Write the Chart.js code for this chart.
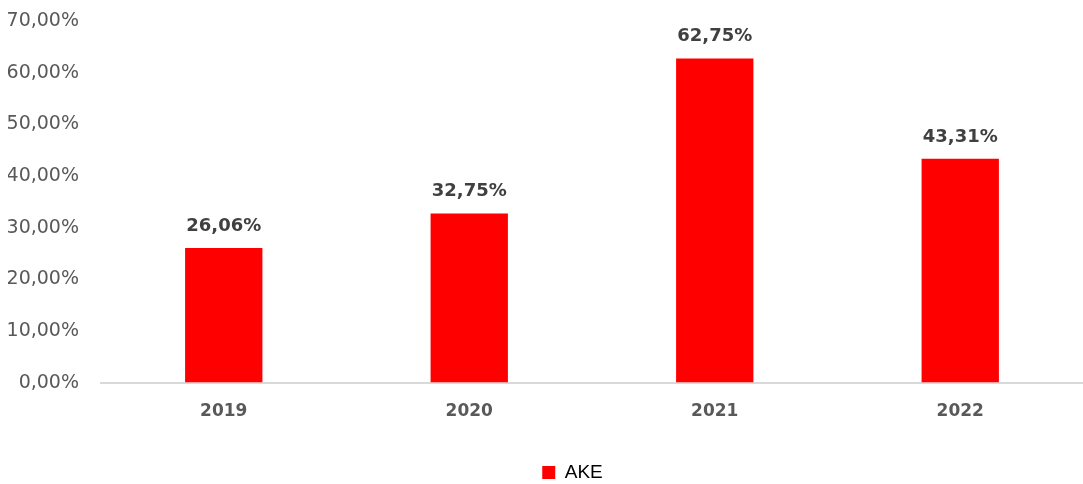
<!DOCTYPE html>
<html>
<head>
<meta charset="utf-8">
<script src="https://cdn.jsdelivr.net/npm/chart.js@4"></script>
<style>
  html, body { margin: 0; padding: 0; background: #fff; }
  #wrap { width: 1083px; height: 484px; }
</style>
</head>
<body>
<div id="wrap"><canvas id="akeChart" width="1083" height="484"></canvas></div>
<script>
const years = ['2019', '2020', '2021', '2022'];
const akeValues = [26.06, 32.75, 62.75, 43.31];
const yTicks = [0, 10, 20, 30, 40, 50, 60, 70];

function pct(v) {
  return v.toFixed(2).replace('.', ',') + '%';
}

// draws the value above every bar
const valueLabels = {
  id: 'valueLabels',
  afterDatasetsDraw(chart) {
    const ctx = chart.ctx;
    ctx.save();
    ctx.font = 'bold 18px "DejaVu Sans"';
    ctx.fillStyle = '#404040';
    ctx.textAlign = 'center';
    ctx.textBaseline = 'bottom';
    chart.getDatasetMeta(0).data.forEach((bar, i) => {
      ctx.fillText(pct(akeValues[i]), bar.x, bar.y - 13);
    });
    ctx.restore();
  }
};

// legend sits a bit right of the canvas centre in the original
const legendShift = {
  id: 'legendShift',
  afterLayout(chart) {
    if (chart.legend) chart.legend.left += 54;
  }
};

const ctx = document.getElementById('akeChart').getContext('2d');
new Chart(ctx, {
  type: 'bar',
  data: {
    labels: years,
    datasets: [{
      label: 'AKE',
      data: akeValues,
      backgroundColor: '#ff0000',
      categoryPercentage: 1,
      barPercentage: 0.315
    }]
  },
  options: {
    responsive: false,
    animation: false,
    layout: { padding: { left: 8, top: 21, right: 0, bottom: -8 } },
    plugins: {
      legend: {
        position: 'bottom',
        labels: {
          boxWidth: 13,
          boxHeight: 13,
          padding: 10,
          color: '#000',
          font: { family: '"Liberation Sans"', size: 19 }
        }
      },
      tooltip: { enabled: false }
    },
    scales: {
      x: {
        grid: { display: false },
        border: { display: true, color: '#d9d9d9', width: 2 },
        ticks: {
          color: '#595959',
          padding: 11,
          font: { family: '"DejaVu Sans"', size: 17, weight: 'bold' }
        },
        afterFit(scale) {
          scale.height += 20;
        }
      },
      y: {
        min: 0,
        max: 70,
        afterBuildTicks(scale) {
          scale.ticks = yTicks.map(v => ({ value: v }));
        },
        afterFit(scale) {
          scale.width = 93;
          scale.paddingTop = 0;
          scale.paddingBottom = 0;
        },
        grid: { display: false },
        border: { display: false },
        ticks: {
          color: '#595959',
          padding: 14,
          font: { family: '"DejaVu Sans"', size: 19 },
          callback: v => pct(v)
        }
      }
    }
  },
  plugins: [valueLabels, legendShift]
});
</script>
</body>
</html>
